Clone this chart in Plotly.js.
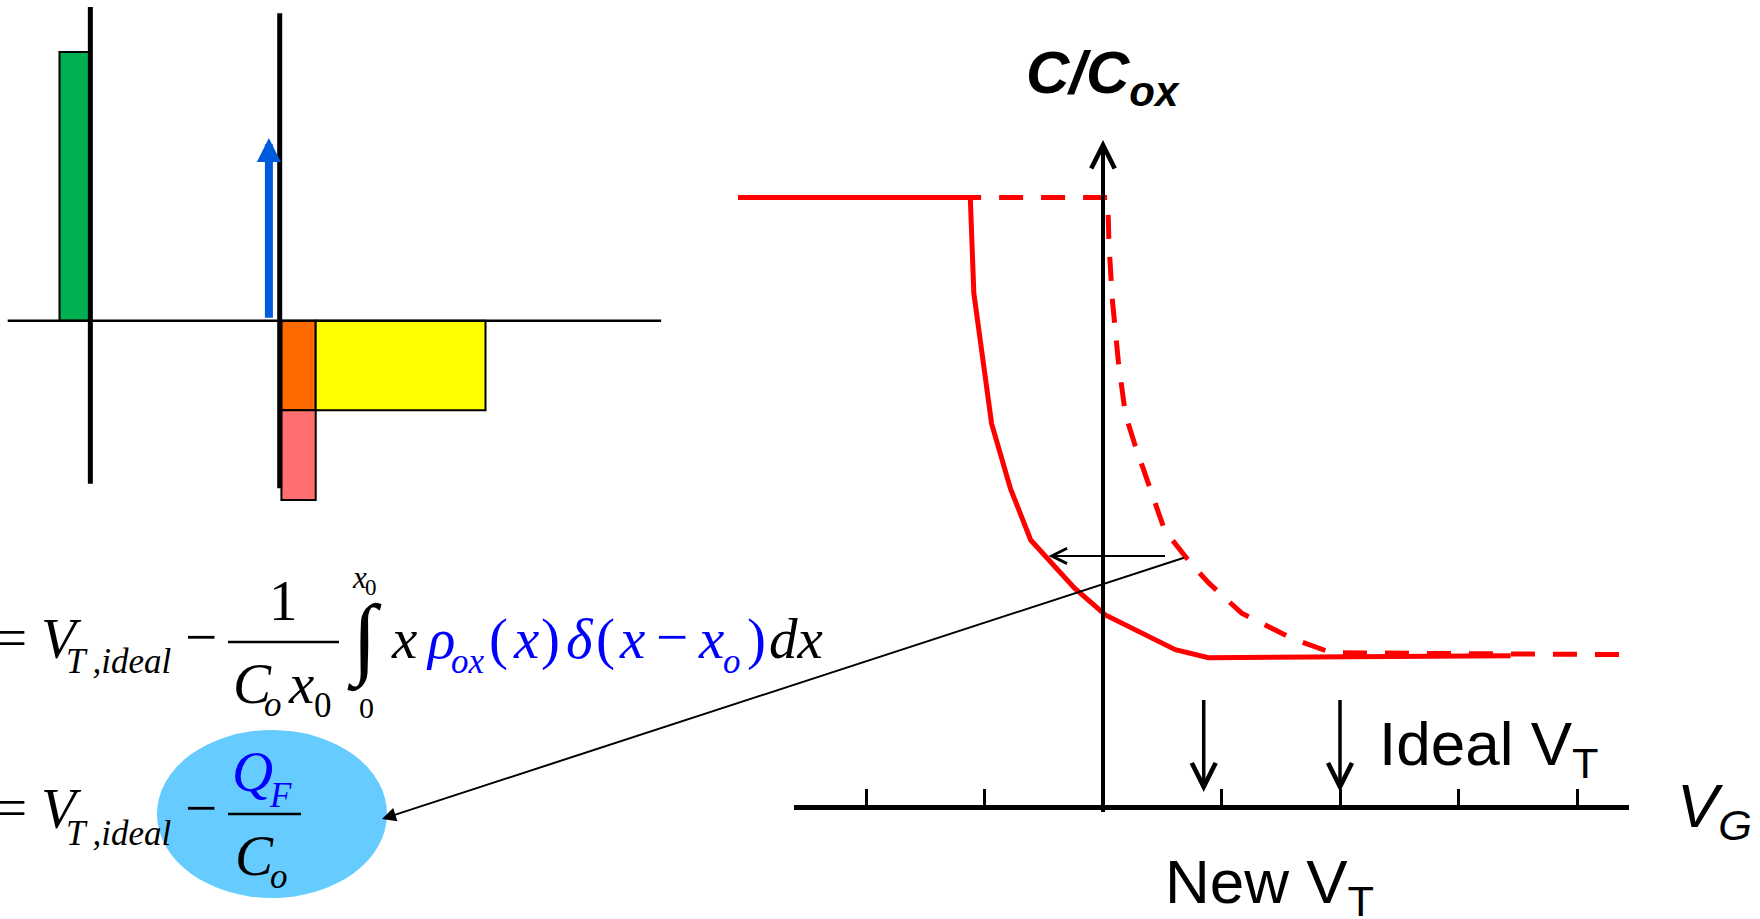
<!DOCTYPE html>
<html>
<head>
<meta charset="utf-8">
<script src="https://cdn.plot.ly/plotly-3.0.1.min.js"></script>
<style>
  html, body { margin: 0; padding: 0; background: #fff; }
  #chart { width: 1760px; height: 919px; }
</style>
</head>
<body>
<div id="chart"></div>
<script>
// ---------------- data ----------------
// C–V curves: gate voltage (arb. units) vs normalised capacitance C/Cox
const vgTicks   = [-2, -1, 0, 1, 2, 3, 4];
const shiftedVG = [-3.08, -1.12, -1.09, -1.02, -0.94, -0.78, -0.61, -0.24, 0.02, 0.61, 0.89, 3.44];
const shiftedC  = [1.000, 1.000, 0.843, 0.737, 0.629, 0.522, 0.438, 0.359, 0.315, 0.258, 0.245, 0.248];
const idealVG   = [-1.94, 0.04, 0.05, 0.08, 0.13, 0.19, 0.27, 0.40, 0.52, 0.74, 0.89, 1.17, 1.59, 1.93, 4.46];
const idealC    = [1.000, 1.000, 0.924, 0.830, 0.730, 0.643, 0.594, 0.520, 0.454, 0.400, 0.368, 0.318, 0.277, 0.253, 0.250];
const vtNames   = ['New', 'Ideal'];
const vtValues  = [0.85, 2.00];
// level at which the shift between the two curves is marked
const shiftLevel = 0.412;
const shiftFrom  = 0.54;
const shiftTo    = -0.46;

// charge-density sketch: position (arb.) and charge density (arb.)
const chargeNames  = ['gate', 'inversion', 'depletion', 'induced'];
const chargeX0     = [-6.42, 0.05, 1.05, 0.05];
const chargeX1     = [-5.52, 1.05, 6.00, 1.05];
const chargeLow    = [0, -1, -1, -2];
const chargeHigh   = [3, 0, 0, -1];
const chargeColors = ['#00B050', '#FF6A00', '#FFFF00', '#FF6F6F'];
const gateX = -5.52, gateSpan = [-1.82, 3.50];
const siX = 0, siSpan = [-1.87, 3.43];
const baseSpan = [-7.93, 11.12];
const fixedX = -0.315, fixedQ = 2.04;

// ---------------- frame ----------------
const W = 1760, H = 919;
const SERIF = '"Liberation Serif", "Times New Roman", serif';
const SANS = '"Liberation Sans", Arial, sans-serif';
const BLUE = '#0000FF';

const CV = {ox: 1103, oy: 807, ux: 118.5, uy: 609.5};
const vx = p => (p - CV.ox) / CV.ux;
const vy = p => (CV.oy - p) / CV.uy;
const CD = {ox: 279.7, oy: 320.7, ux: 34.3, uy: 89.6};
const cx = p => (p - CD.ox) / CD.ux;
const cy = p => (CD.oy - p) / CD.uy;
const fx = p => p / W;
const fy = p => 1 - p / H;

// ---------------- traces ----------------
const traces = [
  {
    type: 'bar', xaxis: 'x2', yaxis: 'y2', name: 'charge',
    x: chargeX0.map((a, i) => (a + chargeX1[i]) / 2),
    width: chargeX0.map((a, i) => chargeX1[i] - a),
    base: chargeLow,
    y: chargeHigh.map((h, i) => h - chargeLow[i]),
    text: chargeNames, textposition: 'none',
    marker: {color: chargeColors, line: {color: '#000', width: 2}},
    hoverinfo: 'skip'
  },
  {type: 'scatter', mode: 'lines', xaxis: 'x2', yaxis: 'y2', x: baseSpan, y: [0, 0],
   line: {color: '#000', width: 2.5}, hoverinfo: 'skip'},
  {type: 'scatter', mode: 'lines', xaxis: 'x2', yaxis: 'y2', x: [gateX, gateX], y: gateSpan,
   line: {color: '#000', width: 5}, hoverinfo: 'skip'},
  {type: 'scatter', mode: 'lines', xaxis: 'x2', yaxis: 'y2', x: [siX, siX], y: siSpan,
   line: {color: '#000', width: 5}, hoverinfo: 'skip'},
  {type: 'scatter', mode: 'lines', x: shiftedVG, y: shiftedC,
   line: {color: '#FF0000', width: 5}, hoverinfo: 'skip'},
  {type: 'scatter', mode: 'lines', x: idealVG, y: idealC,
   line: {color: '#FF0000', width: 5, dash: '24px,18px'}, hoverinfo: 'skip'},
  {type: 'scatter', mode: 'lines', xaxis: 'x3', yaxis: 'y3', x: [], y: [], hoverinfo: 'skip'}
];

// ---------------- text helpers ----------------
// place a text by its left edge (or centre) and its baseline, in page pixels
function label(text, left, base, size, opt) {
  opt = opt || {};
  const serif = opt.serif !== false;
  const asc = serif ? 0.891 : 0.905;
  const centred = opt.center !== undefined;
  return {
    xref: 'paper', yref: 'paper',
    x: (centred ? opt.center : left - 2) / W,
    y: 1 - (base - 2 - asc * size) / H,
    xanchor: centred ? 'center' : 'left', yanchor: 'top',
    text: text, showarrow: false,
    font: {family: serif ? SERIF : SANS, size: size, color: opt.color || '#000'}
  };
}
// a glyph centred on a given x
const at = (text, c, base, size, color) => label(text, 0, base, size, {center: c, color: color});

function arrow(x, y, ax, ay, o) {
  return Object.assign({
    xref: 'x', yref: 'y', axref: 'x', ayref: 'y',
    x: x, y: y, ax: ax, ay: ay, text: ' ', font: {size: 2},
    showarrow: true, arrowcolor: '#000', standoff: 0, startstandoff: 0
  }, o);
}

const M = 57, S = 35;     // main and subscript sizes of the formulas
const annotations = [
  // C–V labels
  label('<b><i>C/C<sub>ox</sub></i></b>', 1026, 93, 60, {serif: false}),
  label('Ideal V<sub>T</sub>', 1379, 765, 62, {serif: false}),
  label('New V<sub>T</sub>', 1165, 903, 62, {serif: false}),
  label('<i>V<sub>G</sub></i>', 1677, 827, 62, {serif: false}),

  // threshold voltage, integral form
  at('=', 11, 657, M),
  at('<i>V</i>', 62, 658, M),
  at('<i>T\u2009,ideal</i>', 118.5, 673, S),
  at('\u2212', 200.5, 656, M),
  at('1', 283.5, 620, M),
  at('<i>C</i>', 252, 703, M),
  at('<i>o</i>', 273, 716, S),
  at('<i>x</i>', 300.5, 703, M),
  at('0', 322.5, 717, S),
  at('\u222B', 364.5, 667, 90),
  at('<i>x</i>', 359, 588, 31),
  at('0', 370.5, 595, 23),
  at('0', 366, 718, 30),
  at('<i>x</i>', 403.5, 658, M),
  at('<i>\u03C1</i>', 440.5, 658, M, BLUE),
  at('<i>ox</i>', 468.5, 673, S, BLUE),
  at('(', 498.5, 658, M, BLUE),
  at('<i>x</i>', 525.5, 658, M, BLUE),
  at(')', 550, 658, M, BLUE),
  at('<i>\u03B4</i>', 580, 658, M, BLUE),
  at('(', 605.5, 658, M, BLUE),
  at('<i>x</i>', 631.5, 658, M, BLUE),
  at('\u2212', 672, 656, M, BLUE),
  at('<i>x</i>', 711, 658, M, BLUE),
  at('<i>o</i>', 731.5, 673, S, BLUE),
  at(')', 756, 658, M, BLUE),
  at('<i>dx</i>', 795.5, 658, M),

  // threshold voltage, sheet-charge form
  at('=', 11, 827, M),
  at('<i>V</i>', 62, 828, M),
  at('<i>T\u2009,ideal</i>', 118.5, 845, S),
  at('\u2212', 200.5, 827, M),
  at('<i>Q</i>', 252, 791, M, BLUE),
  at('<i>F</i>', 280.5, 807, S, BLUE),
  at('<i>C</i>', 254.5, 875, M),
  at('<i>o</i>', 279, 888, S),

  // arrowhead of the C/Cox axis
  arrow(0, vy(140), 0, vy(190), {arrowhead: 5, arrowwidth: 4, arrowsize: 1.15}),
  // shift of the curve
  arrow(shiftTo, shiftLevel, shiftFrom, shiftLevel, {arrowhead: 5, arrowwidth: 2, arrowsize: 1.5}),
  // pointer from the shifted curve to the flat-band term
  arrow(vx(382), vy(819), 0.70, 0.410, {arrowhead: 2, arrowwidth: 2, arrowsize: 1.4}),
  // fixed oxide charge sheet
  arrow(fixedX, fixedQ, fixedX, 0, {xref: 'x2', yref: 'y2', axref: 'x2', ayref: 'y2',
        arrowhead: 2, arrowwidth: 8, arrowsize: 0.6, arrowcolor: '#005BDC'})
];
// threshold-voltage markers
vtValues.forEach((v, i) => {
  annotations.push(arrow(v, vy(792), v, vy(697), {arrowhead: 5, arrowwidth: 3.5, arrowsize: 1.34, name: vtNames[i]}));
});

const shapes = [
  {type: 'circle', xref: 'paper', yref: 'paper', x0: fx(157), x1: fx(387), y0: fy(898), y1: fy(730),
   fillcolor: '#66CCFF', line: {width: 0}, layer: 'below'},
  {type: 'line', xref: 'paper', yref: 'paper', x0: fx(228), x1: fx(339), y0: fy(642), y1: fy(642),
   line: {color: '#000', width: 2.5}, layer: 'above'},
  {type: 'line', xref: 'paper', yref: 'paper', x0: fx(228), x1: fx(301), y0: fy(814), y1: fy(814),
   line: {color: '#000', width: 2.5}, layer: 'above'}
];

const layout = {
  width: W, height: H,
  margin: {l: 0, r: 0, t: 0, b: 0},
  paper_bgcolor: '#ffffff', plot_bgcolor: 'rgba(0,0,0,0)',
  showlegend: false, barmode: 'overlay',
  xaxis: {domain: [0, 1], range: [vx(0), vx(W)], visible: false, fixedrange: true},
  yaxis: {domain: [fy(812), fy(146)], range: [vy(812), vy(146)], anchor: 'free', position: fx(CV.ox),
          showline: true, linewidth: 4, linecolor: '#000', ticks: '', showticklabels: false,
          showgrid: false, zeroline: false, layer: 'above traces', fixedrange: true},
  xaxis3: {domain: [fx(793.5), fx(1628.5)], range: [vx(793.5), vx(1628.5)], anchor: 'y3',
           showline: true, linewidth: 5, linecolor: '#000',
           ticks: 'inside', ticklen: 16, tickwidth: 3, tickcolor: '#000',
           tickmode: 'array', tickvals: vgTicks, showticklabels: false,
           showgrid: false, zeroline: false, layer: 'above traces', fixedrange: true},
  yaxis3: {domain: [fy(804.5), fy(700)], range: [0, 1], anchor: 'x3', visible: false},
  xaxis2: {domain: [0, 1], range: [cx(0), cx(W)], anchor: 'y2', visible: false},
  yaxis2: {domain: [0, 1], range: [cy(H), cy(0)], anchor: 'x2', visible: false},
  annotations: annotations,
  shapes: shapes
};

Plotly.newPlot('chart', traces, layout, {staticPlot: true, displayModeBar: false});
</script>
</body>
</html>
